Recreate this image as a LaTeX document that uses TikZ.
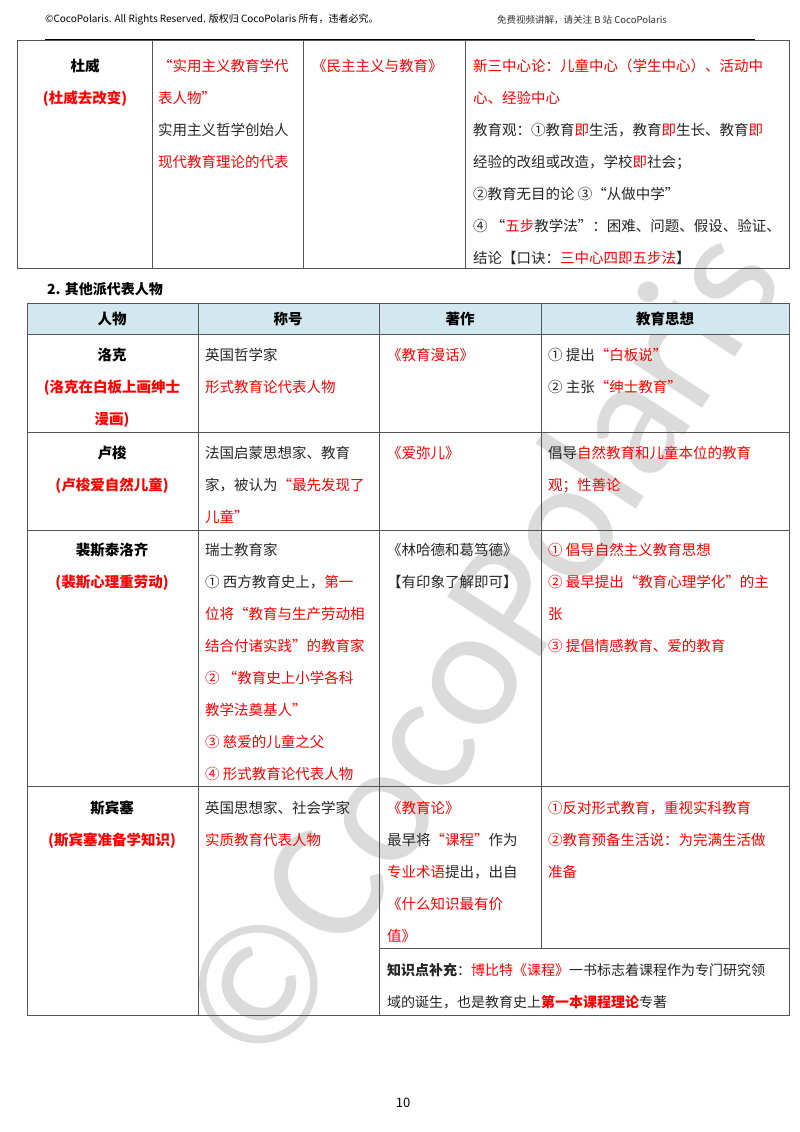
\documentclass[tikz,border=0pt]{standalone}
\usepackage{fontspec}
\setmainfont{Noto Sans CJK SC}
\newfontfamily\wmfont{Carlito}
\newcommand{\R}[1]{\textcolor{red}{#1}}
\definecolor{hdrblue}{HTML}{D2E8F0}
\definecolor{gridc}{HTML}{555555}
\begin{document}
\begin{tikzpicture}[x=1pt,y=-1pt,
  cell/.style={anchor=north west,inner sep=0pt,align=left,font=\fontsize{14.5}{32}\selectfont,text=black!85},
  ccell/.style={anchor=north,inner sep=0pt,align=center,font=\fontsize{14.5}{32}\selectfont\bfseries},
  grid/.style={draw=gridc,line width=0.8pt}]
\useasboundingbox (0,0) rectangle (800,1132);
\fill[white] (0,0) rectangle (800,1132);
% watermark
\node[rotate=57,text=gray!28,font=\wmfont\fontsize{172}{172}\selectfont,inner sep=0] (wm) at (478,645) {©CocoPolaris};
% header
\node[anchor=west,inner sep=0,font=\fontsize{10}{12}\selectfont] (h1) at (45,20) {©CocoPolaris. All Rights Reserved. 版权归 CocoPolaris 所有，违者必究。};
\node[anchor=west,inner sep=0,font=\fontsize{9.5}{12}\selectfont,text=black!80] (h2) at (497,20) {免费视频讲解，请关注 B 站 CocoPolaris};
\draw[line width=1.3pt] (45,40) -- (755,40);
% top table
\draw[grid] (17,40) rectangle (789,268);
\foreach \x in {152,303,465} \draw[grid] (\x,40) -- (\x,268);
\node[ccell] (t1) at (85,59) {杜威\\\R{(杜威去改变)}};
\node[cell] (t2) at (158,59) {\R{“实用主义教育学代}\\\R{表人物”}\\实用主义哲学创始人\\\R{现代教育理论的代表}};
\node[cell] (t3) at (312,59) {\R{《民主主义与教育》}};
\node[cell] (t4) at (473,59) {\R{新三中心论：儿童中心（学生中心）、活动中}\\\R{心、经验中心}\\教育观：①教育\R{即}生活，教育\R{即}生长、教育\R{即}\\经验的改组或改造，学校\R{即}社会；\\②教育无目的论 ③“从做中学”\\④ “\R{五步}教学法”：困难、问题、假设、验证、\\结论【口诀：\R{三中心四即五步法}】};
\node[anchor=west,inner sep=0,font=\fontsize{14}{16}\selectfont\bfseries] (sec) at (47,289) {2. 其他派代表人物};
% second table
\fill[hdrblue] (27,303) rectangle (789,334);
\draw[grid] (27,303) rectangle (789,1015);
\foreach \y in {334,432,530,786} \draw[grid] (27,\y) -- (789,\y);
\draw[grid] (379,948) -- (789,948);
\foreach \x in {198,379} \draw[grid] (\x,303) -- (\x,1015);
\draw[grid] (541,303) -- (541,948);
\foreach \x/\t in {112/人物,288/称号,460/著作,665/教育思想}
  \node[font=\fontsize{14.5}{16}\selectfont\bfseries,inner sep=0] at (\x,319) {\t};
% 洛克
\node[ccell] (a1) at (112,348) {洛克\\\R{(洛克在白板上画绅士}\\\R{漫画)}};
\node[cell] (a2) at (205,348) {英国哲学家\\\R{形式教育论代表人物}};
\node[cell] (a3) at (387,348) {\R{《教育漫话》}};
\node[cell] (a4) at (548,348) {① 提出\R{“白板说”}\\② 主张\R{“绅士教育”}};
% 卢梭
\node[ccell] (b1) at (112,446) {卢梭\\\R{(卢梭爱自然儿童)}};
\node[cell] (b2) at (205,446) {法国启蒙思想家、教育\\家，被认为\R{“最先发现了}\\\R{儿童”}};
\node[cell] (b3) at (387,446) {\R{《爱弥儿》}};
\node[cell] (b4) at (548,446) {倡导\R{自然教育和儿童本位的教育}\\\R{观；性善论}};
% 裴斯泰洛齐
\node[ccell] (c1) at (112,543) {裴斯泰洛齐\\\R{(裴斯心理重劳动)}};
\node[cell] (c2) at (205,543) {瑞士教育家\\① 西方教育史上，\R{第一}\\\R{位将“教育与生产劳动相}\\\R{结合付诸实践”的教育家}\\\R{② “教育史上小学各科}\\\R{教学法奠基人”}\\\R{③ 慈爱的儿童之父}\\\R{④ 形式教育论代表人物}};
\node[cell] (c3) at (387,543) {《林哈德和葛笃德》\\【有印象了解即可】};
\node[cell] (c4) at (548,543) {\R{① 倡导自然主义教育思想}\\\R{② 最早提出“教育心理学化”的主}\\\R{张}\\\R{③ 提倡情感教育、爱的教育}};
% 斯宾塞
\node[ccell] (d1) at (112,801) {斯宾塞\\\R{(斯宾塞准备学知识)}};
\node[cell] (d2) at (205,801) {英国思想家、社会学家\\\R{实质教育代表人物}};
\node[cell] (d3) at (387,801) {\R{《教育论》}\\最早将\R{“课程”}作为\\\R{专业术语}提出，出自\\\R{《什么知识最有价}\\\R{值》}};
\node[cell] (d4) at (548,801) {\R{①反对形式教育，重视实科教育}\\\R{②教育预备生活说：为完满生活做}\\\R{准备}};
\node[cell,font=\fontsize{14}{32}\selectfont] (e) at (387,963) {\textbf{知识点补充}：\R{博比特《课程》}一书标志着课程作为专门研究领\\域的诞生，也是教育史上\textbf{\R{第一本课程理论}}专著};
\node[font=\fontsize{13}{14}\selectfont,inner sep=0] (pg) at (403,1103) {10};
\end{tikzpicture}
\end{document}
